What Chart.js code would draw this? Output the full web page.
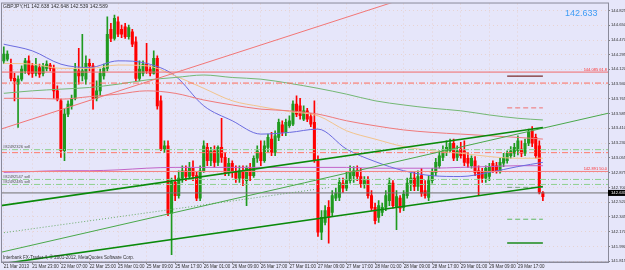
<!DOCTYPE html>
<html>
<head>
<meta charset="utf-8">
<script src="https://cdn.jsdelivr.net/npm/chart.js@4.4.0/dist/chart.umd.min.js"></script>
<style>
html, body { margin: 0; padding: 0; background: #e6e6fa; overflow: hidden; }
canvas { display: block; }
</style>
</head>
<body>
<canvas id="myChart" width="625" height="270"></canvas>
<script>
// GBPJPY H1, 21 Mar 2013 - 29 Mar 2013
const header = 'GBPJPY,H1 142.638 142.648 142.539 142.589';
const lastPrice = 142.633;

const timeLabels = ['21 Mar 2013', '21 Mar 23:00', '22 Mar 07:00', '22 Mar 15:00', '25 Mar 01:00',
    '25 Mar 09:00', '25 Mar 17:00', '26 Mar 01:00', '26 Mar 09:00', '26 Mar 17:00', '27 Mar 01:00',
    '27 Mar 09:00', '27 Mar 17:00', '28 Mar 01:00', '28 Mar 09:00', '28 Mar 17:00', '29 Mar 01:00',
    '29 Mar 09:00', '29 Mar 17:00'];

const priceTicks = [144.825, 144.650, 144.470, 144.295, 144.120, 143.940, 143.765, 143.585, 143.410,
    143.230, 143.055, 142.875, 142.700, 142.520, 142.345, 142.170, 141.990, 141.815];

const opens = [
    144.22, 144.24, 144.17, 144.01, 143.94, 144.00, 144.10, 144.22, 144.16, 144.07,
    144.14, 144.07, 144.13, 144.17, 144.13, 143.86, 143.74, 143.14, 143.58, 143.68,
    143.77, 144.10, 144.04, 144.00, 144.19, 144.16, 143.77, 143.86, 144.04, 144.13,
    144.60, 144.49, 144.69, 144.60, 144.63, 144.51, 144.57, 144.45, 144.01, 144.07,
    144.18, 144.12, 144.07, 144.25, 143.74, 143.16, 143.20, 142.39, 142.76, 142.60,
    142.81, 142.90, 142.83, 142.93, 142.84, 142.57, 142.90, 143.18, 143.02, 143.14,
    143.00, 143.18, 143.06, 142.88, 142.99, 142.88, 142.81, 142.90, 142.78, 142.93,
    142.84, 143.05, 143.12, 143.02, 143.18, 143.28, 143.12, 143.30, 143.45, 143.36,
    143.44, 143.46, 143.70, 143.68, 143.52, 143.62, 143.55, 143.48, 143.02, 142.16,
    142.28, 142.46, 142.40, 142.57, 142.58, 142.75, 142.69, 142.78, 142.84, 142.90,
    142.83, 142.74, 142.78, 142.60, 142.46, 142.34, 142.40, 142.46, 142.54, 142.75,
    142.46, 142.57, 142.46, 142.60, 142.75, 142.81, 142.71, 142.84, 142.66, 142.58,
    142.78, 142.88, 142.96, 143.06, 143.12, 143.14, 143.23, 143.06, 143.16, 143.14,
    143.05, 142.96, 143.02, 142.90, 142.88, 142.81, 142.83, 142.99, 142.96, 142.90,
    142.99, 143.02, 143.08, 143.11, 143.14, 143.16, 143.11, 143.23, 143.38, 143.30,
    143.20, 142.638
];
const highs = [
    144.39, 144.34, 144.24, 144.07, 144.04, 144.16, 144.25, 144.28, 144.19, 144.25,
    144.18, 144.19, 144.22, 144.19, 144.17, 143.92, 143.76, 143.64, 143.74, 143.81,
    144.19, 144.37, 144.54, 144.28, 144.24, 144.19, 143.98, 144.12, 144.18, 144.75,
    144.67, 144.77, 144.75, 144.65, 144.67, 144.65, 144.60, 144.51, 144.22, 144.22,
    144.43, 144.16, 144.34, 144.28, 143.80, 143.26, 143.26, 142.81, 142.84, 142.90,
    142.96, 142.96, 143.00, 143.02, 142.88, 142.96, 143.26, 143.23, 143.18, 143.20,
    143.20, 143.53, 143.12, 143.05, 143.02, 142.96, 142.96, 142.96, 142.96, 142.99,
    143.08, 143.20, 143.26, 143.26, 143.34, 143.36, 143.38, 143.52, 143.50, 143.52,
    143.56, 143.74, 143.80, 143.77, 143.68, 143.65, 143.59, 143.74, 143.08, 142.42,
    142.48, 142.54, 142.66, 142.69, 142.81, 142.81, 142.88, 142.96, 142.95, 142.96,
    142.93, 142.83, 142.83, 142.66, 142.51, 142.54, 142.51, 142.66, 142.81, 142.78,
    142.66, 142.60, 142.66, 142.81, 142.87, 142.88, 142.90, 142.93, 142.78, 142.84,
    142.93, 143.05, 143.14, 143.20, 143.26, 143.28, 143.28, 143.20, 143.24, 143.26,
    143.12, 143.08, 143.07, 142.96, 142.93, 142.96, 142.99, 143.02, 143.00, 143.05,
    143.11, 143.14, 143.19, 143.23, 143.32, 143.26, 143.28, 143.40, 143.43, 143.34,
    143.26, 142.648
];
const lows = [
    144.19, 144.22, 143.98, 143.74, 143.42, 143.98, 144.07, 144.05, 144.02, 144.04,
    144.02, 144.04, 144.10, 144.10, 143.77, 143.74, 143.06, 143.02, 143.55, 143.64,
    143.75, 143.94, 143.98, 143.94, 144.10, 143.64, 143.74, 143.80, 144.00, 144.10,
    144.45, 144.47, 144.51, 144.50, 144.49, 144.48, 144.39, 143.98, 143.98, 144.04,
    144.07, 144.04, 144.06, 143.64, 143.14, 143.12, 142.36, 141.89, 142.54, 142.57,
    142.76, 142.78, 142.81, 142.78, 142.54, 142.54, 142.88, 142.96, 142.96, 142.94,
    142.96, 143.00, 142.84, 142.84, 142.82, 142.76, 142.76, 142.72, 142.48, 142.78,
    142.82, 143.00, 142.96, 143.00, 143.12, 143.08, 143.08, 143.26, 143.32, 143.32,
    143.42, 143.44, 143.55, 143.52, 143.50, 143.49, 143.43, 143.00, 142.11, 142.07,
    142.25, 142.03, 142.36, 142.54, 142.54, 142.64, 142.66, 142.75, 142.76, 142.78,
    142.70, 142.69, 142.57, 142.42, 142.26, 142.28, 142.36, 142.42, 142.48, 142.45,
    142.19, 142.40, 142.42, 142.57, 142.66, 142.66, 142.66, 142.59, 142.57, 142.54,
    142.75, 142.84, 142.93, 143.02, 143.08, 143.12, 143.02, 143.02, 143.05, 142.96,
    142.94, 142.93, 142.84, 142.60, 142.76, 142.76, 142.78, 142.88, 142.87, 142.87,
    142.95, 142.99, 143.05, 143.07, 143.09, 143.07, 143.08, 143.20, 143.19, 143.05,
    142.62, 142.539
];
const closes = [
    144.30, 144.30, 144.01, 143.98, 144.00, 144.12, 144.22, 144.07, 144.07, 144.16,
    144.06, 144.16, 144.18, 144.13, 143.86, 143.76, 143.14, 143.58, 143.70, 143.77,
    144.12, 144.04, 144.10, 144.19, 144.16, 143.77, 143.86, 144.07, 144.13, 144.54,
    144.49, 144.73, 144.54, 144.54, 144.51, 144.62, 144.42, 144.01, 144.12, 144.18,
    144.10, 144.07, 144.25, 143.68, 143.16, 143.20, 142.39, 142.76, 142.60, 142.81,
    142.90, 142.83, 142.93, 142.84, 142.57, 142.90, 143.20, 143.02, 143.14, 143.00,
    143.18, 143.06, 142.88, 142.99, 142.88, 142.81, 142.90, 142.81, 142.93, 142.84,
    143.05, 143.14, 143.02, 143.20, 143.30, 143.12, 143.32, 143.48, 143.36, 143.48,
    143.50, 143.70, 143.58, 143.56, 143.62, 143.52, 143.46, 143.02, 142.16, 142.34,
    142.42, 142.34, 142.60, 142.63, 142.76, 142.69, 142.78, 142.88, 142.90, 142.83,
    142.74, 142.78, 142.60, 142.45, 142.30, 142.48, 142.46, 142.60, 142.75, 142.48,
    142.59, 142.45, 142.62, 142.75, 142.81, 142.71, 142.83, 142.63, 142.60, 142.78,
    142.88, 143.00, 143.08, 143.14, 143.18, 143.23, 143.05, 143.14, 143.08, 143.00,
    142.99, 143.05, 142.88, 142.81, 142.81, 142.93, 142.95, 142.90, 142.90, 143.00,
    143.06, 143.11, 143.14, 143.18, 143.26, 143.11, 143.23, 143.36, 143.23, 143.08,
    142.64, 142.589
];

// moving averages, read every 8 bars
const maBars = [0, 8, 16, 24, 32, 40, 48, 56, 64, 72, 80, 88, 96, 104, 112, 120, 128, 136, 144, 151];
const maBlue = [144.42, 144.34, 144.18, 144.14, 144.22, 144.19, 144.04, 143.68, 143.50, 143.34,
    143.36, 143.40, 143.16, 143.01, 142.90, 142.84, 142.83, 142.88, 142.95, 143.00];
const maTan = [144.19, 144.18, 144.13, 144.13, 144.17, 144.16, 144.04, 143.89, 143.74, 143.67,
    143.61, 143.56, 143.38, 143.28, 143.19, 143.14, 143.11, 143.07, 143.05, 143.05];
const maRed = [143.77, 143.77, 143.76, 143.79, 143.82, 143.86, 143.83, 143.75, 143.69, 143.64,
    143.62, 143.58, 143.50, 143.44, 143.39, 143.36, 143.34, 143.32, 143.30, 143.28];
const maGreen = [143.83, 143.86, 143.88, 143.90, 143.94, 143.99, 144.02, 144.05, 144.02, 144.00,
    143.95, 143.89, 143.82, 143.74, 143.69, 143.65, 143.62, 143.57, 143.53, 143.51];
const maPurple = [142.88, 142.89, 142.90, 142.90, 142.91, 142.93, 142.94, 142.94, 142.94, 142.94,
    142.94, 142.94, 142.94, 142.93, 142.93, 142.93, 142.94, 142.95, 142.96, 142.96];

// trend lines: [bar, price] end points
const redTrend = [[-0.78, 143.40], [108.7, 144.92]];
const upperChannel = [[-0.78, 142.48], [151, 143.42]];
const lowerChannel = [[-0.78, 141.78], [151, 142.71]];
const thinTrend = [[-0.78, 141.92], [169.24, 143.59]];
const dottedTrend = [[-0.78, 142.15], [91.4, 142.70]];

// horizontal levels
const fib618 = 144.085;
const fib500 = 142.891;
const dashDotLevel = 143.953;
const sellOrders = [143.153, 142.795, 142.735];
const sellStop = 143.117;
const sellLabels = [['#82492326 sell', 143.153], ['#82492547 sell', 142.795], ['#82492485 sell', 142.735]];
const shortLevels = [144.036, 143.655, 142.700, 142.317, 142.030];
const shortFrom = 141, shortTo = 151;

const xMin = -0.78, xMax = 169.24;
const yMin = 141.803, yMax = 144.909;

const upColor = '#1f9a1f', downColor = '#ff0000';
const barColors = closes.map((c, i) => c >= opens[i] ? upColor : downColor);

const line = (pts, color, extra) => Object.assign({
    type: 'line',
    data: pts.map(p => ({x: p[0], y: p[1]})),
    borderColor: color,
    borderWidth: 1,
    pointRadius: 0,
    order: 1
}, extra || {});
const level = (y, color, extra, x0, x1) =>
    line([[x0 === undefined ? xMin : x0, y], [x1 === undefined ? xMax : x1, y]], color, extra);
const ma = (vals, color) => line(maBars.map((b, k) => [b, vals[k]]), color, {cubicInterpolationMode: 'monotone', order: 2});

const dashDot = [6, 2, 1, 2];

const datasets = [
    {
        type: 'bar',
        data: lows.map((l, i) => ({x: i, y: [l, highs[i]]})),
        backgroundColor: barColors,
        barThickness: 1,
        grouped: false,
        order: 20
    },
    {
        type: 'bar',
        data: opens.map((o, i) => ({x: i, y: [o, closes[i]]})),
        backgroundColor: barColors,
        barThickness: 2.4,
        minBarLength: 1,
        grouped: false,
        order: 19
    },
    ma(maGreen, '#74b874'),
    ma(maRed, '#f07a7a'),
    ma(maTan, '#f3c48c'),
    ma(maBlue, '#6b6be0'),
    ma(maPurple, '#c264c8'),
    line(redTrend, '#f27676'),
    line(upperChannel, '#0a8a0a', {borderWidth: 1.6}),
    line(lowerChannel, '#0a8a0a', {borderWidth: 1.6}),
    line(thinTrend, '#4aa84a'),
    line(dottedTrend, '#6aaa6a', {borderDash: [1, 2]}),
    level(fib618, '#f26a6a'),
    level(fib500, '#f58080'),
    level(dashDotLevel, '#ff6a5a', {borderDash: dashDot}),
    level(sellOrders[0], '#8fd08f', {borderDash: dashDot}),
    level(sellStop, '#ff7a6a', {borderDash: dashDot}),
    level(sellOrders[1], '#8fd08f', {borderDash: dashDot}),
    level(sellOrders[2], '#8fd08f', {borderDash: dashDot}),
    level(lastPrice, '#707070'),
    level(shortLevels[0], '#7a2a2a', {borderWidth: 1.3}, shortFrom, shortTo),
    level(shortLevels[1], '#f07070', {borderDash: [5, 3]}, shortFrom, shortTo),
    level(shortLevels[2], '#7fa07f', {borderDash: [5, 3]}, shortFrom, shortTo),
    level(shortLevels[3], '#5fb85f', {borderDash: [5, 3]}, shortFrom, shortTo),
    level(shortLevels[4], '#1a8a1a', {borderWidth: 1.5}, shortFrom, shortTo)
];

const textPlugin = {
    id: 'mtText',
    beforeDraw(chart) {
        const ctx = chart.ctx;
        ctx.save();
        ctx.fillStyle = '#e6e6fa';
        ctx.fillRect(0, 0, chart.width, chart.height);
        ctx.restore();
    },
    afterDraw(chart) {
        const ctx = chart.ctx;
        const a = chart.chartArea;
        const ys = chart.scales.y;
        ctx.save();
        ctx.strokeStyle = '#8a8a9a';
        ctx.lineWidth = 1;
        ctx.strokeRect(a.left + 0.5, a.top - 0.5, a.right - a.left, a.bottom - a.top + 0.5);

        ctx.textBaseline = 'alphabetic';
        ctx.fillStyle = '#303030';
        ctx.font = '5px "Liberation Sans"';
        ctx.textAlign = 'left';
        ctx.fillText(header, 3, 8);

        ctx.font = '4.5px "Liberation Sans"';
        ctx.fillText('Interbank FX-Trader 4, \u00a9 2001-2012, MetaQuotes Software Corp.', 3, 259);

        ctx.font = '4px "Liberation Sans"';
        ctx.fillStyle = '#505050';
        sellLabels.forEach(([t, p]) => ctx.fillText(t, 3, ys.getPixelForValue(p) - 1.5));

        ctx.fillStyle = '#ff3030';
        ctx.textAlign = 'right';
        ctx.fillText(fib618.toFixed(3) + ' 61.8', a.right - 1, ys.getPixelForValue(fib618) - 1);
        ctx.fillText(fib500.toFixed(3) + ' 50.0', a.right - 1, ys.getPixelForValue(fib500) - 1);

        ctx.textAlign = 'left';
        ctx.fillStyle = '#3f9cf5';
        ctx.font = '9px "Liberation Sans"';
        ctx.fillText(lastPrice.toFixed(3), 565, 16);

        const py = ys.getPixelForValue(lastPrice);
        ctx.fillStyle = '#000';
        ctx.fillRect(a.right, py - 3, chart.width - a.right, 6);
        ctx.fillStyle = '#fff';
        ctx.font = '4.2px "Liberation Sans"';
        ctx.textBaseline = 'middle';
        ctx.fillText(lastPrice.toFixed(3), a.right + 3, py);
        ctx.restore();
    }
};

new Chart(document.getElementById('myChart'), {
    type: 'bar',
    data: {datasets: datasets},
    options: {
        responsive: false,
        animation: false,
        devicePixelRatio: 1,
        layout: {padding: {left: 1, top: 2, right: 0, bottom: 0}},
        plugins: {legend: {display: false}, tooltip: {enabled: false}},
        scales: {
            x: {
                type: 'linear',
                min: xMin,
                max: xMax,
                offset: false,
                afterFit: s => { s.height = 8; },
                afterBuildTicks: s => { s.ticks = timeLabels.map((t, k) => ({value: k * 8})); },
                ticks: {
                    autoSkip: false,
                    maxRotation: 0,
                    align: 'start',
                    padding: 0,
                    color: '#303030',
                    font: {family: 'Liberation Sans', size: 4.5},
                    callback: v => timeLabels[Math.round(v / 8)]
                },
                grid: {color: 'rgba(235,170,120,0.3)', tickLength: 2, tickColor: '#808080', offset: false},
                border: {color: '#8a8a9a', dash: [1, 3]}
            },
            y: {
                type: 'linear',
                position: 'right',
                min: yMin,
                max: yMax,
                afterFit: s => { s.width = 17; },
                afterBuildTicks: s => { s.ticks = priceTicks.map(v => ({value: v})); },
                ticks: {
                    padding: 1,
                    color: '#303030',
                    font: {family: 'Liberation Sans', size: 4.2},
                    callback: v => v.toFixed(3)
                },
                grid: {color: 'rgba(235,170,120,0.3)', tickLength: 2, tickColor: '#808080'},
                border: {color: '#8a8a9a', dash: [1, 3]}
            }
        }
    },
    plugins: [textPlugin]
});
</script>
</body>
</html>
